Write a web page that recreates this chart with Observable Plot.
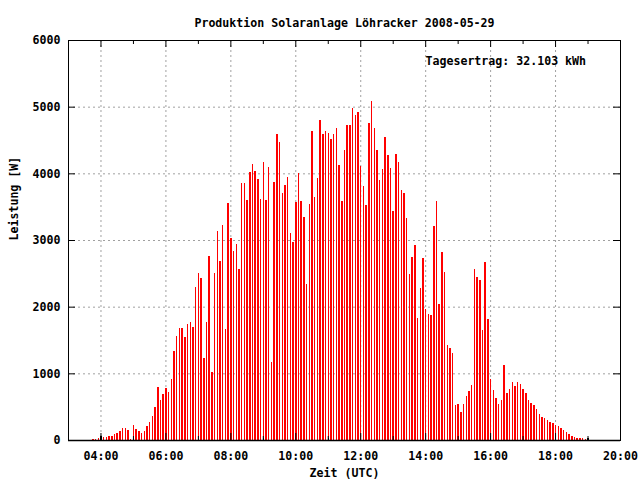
<!DOCTYPE html>
<html><head><meta charset="utf-8">
<script src="https://cdn.jsdelivr.net/npm/d3@7"></script>
<script src="https://cdn.jsdelivr.net/npm/@observablehq/plot@0.6"></script>
<style>html,body{margin:0;padding:0;background:#fff;}</style>
</head><body><div id="chart"></div>
<script>
// ---- data ----
const title = "Produktion Solaranlage Löhracker 2008-05-29";
const yLabel = "Leistung [W]";
const xLabel = "Zeit (UTC)";
const note = "Tagesertrag: 32.103 kWh";
const firstSample = "2008-05-29T03:45Z";
const stepMinutes = 5;
const power = [
  15, 15, 30, 40, 45, 45, 60, 60, 90, 105, 135, 180, 180, 150, 15, 225, 165, 135, 105, 135,
  210, 270, 360, 495, 795, 600, 690, 780, 720, 915, 1335, 1560, 1680, 1680, 1545, 1740, 1770, 1695, 2295, 2505,
  2430, 1230, 1770, 2760, 1020, 2505, 3135, 2685, 3225, 1665, 3555, 3030, 2835, 2940, 2565, 3855, 3855, 3600, 4020, 4140,
  4035, 3915, 3615, 4170, 3600, 4095, 1170, 3870, 4590, 4470, 3705, 3825, 3945, 3105, 2970, 3570, 4005, 3585, 3345, 2340,
  3540, 4635, 3645, 3930, 4800, 4590, 4635, 4605, 4515, 4590, 4680, 4125, 3585, 4350, 4725, 4725, 4980, 4875, 4920, 4110,
  3810, 3525, 4755, 5085, 4680, 4350, 3900, 4065, 4545, 4275, 4080, 3435, 4290, 4170, 3750, 3705, 3330, 2490, 2745, 2925,
  1830, 2280, 2730, 1965, 1890, 1875, 3210, 3585, 2040, 2820, 2520, 1425, 1380, 1305, 525, 540, 420, 540, 660, 735,
  825, 2565, 2445, 2400, 1650, 2670, 1815, 915, 750, 630, 540, 600, 1125, 705, 765, 870, 810, 870, 840, 765,
  705, 600, 555, 525, 465, 390, 345, 330, 300, 270, 255, 225, 210, 180, 150, 120, 90, 60, 45, 30,
  30, 30, 15
];
const markerTimes = ["2008-05-29T04:00Z", "2008-05-29T09:00Z", "2008-05-29T11:00Z", "2008-05-29T16:00Z", "2008-05-29T19:00Z"];
const markerValues = [60, 35, 35, 60, 30];
const xDomain = ["2008-05-29T03:00Z", "2008-05-29T20:00Z"];
const xTickTimes = ["2008-05-29T04:00Z", "2008-05-29T06:00Z", "2008-05-29T08:00Z", "2008-05-29T10:00Z", "2008-05-29T12:00Z", "2008-05-29T14:00Z", "2008-05-29T16:00Z", "2008-05-29T18:00Z", "2008-05-29T20:00Z"];
const xMinorTimes = ["2008-05-29T05:00Z", "2008-05-29T07:00Z", "2008-05-29T09:00Z", "2008-05-29T11:00Z", "2008-05-29T13:00Z", "2008-05-29T15:00Z", "2008-05-29T17:00Z", "2008-05-29T19:00Z"];
const yTicks = [0, 1000, 2000, 3000, 4000, 5000, 6000];

// ---- build ----
const t0 = new Date(firstSample);
const samples = power.map((v, i) => ({t: d3.utcMinute.offset(t0, i * stepMinutes), v}));
const markers = markerTimes.map((t, i) => ({t: new Date(t), v: markerValues[i]}));
const dom = xDomain.map(d => new Date(d));
const majors = xTickTimes.map(d => new Date(d));
const minors = xMinorTimes.map(d => new Date(d));
const inner = majors.filter(d => d < dom[1]);
const yMax = yTicks[yTicks.length - 1];

const W = 640, H = 480, mL = 68, mR = 20, mT = 40, mB = 40;
const wPerPx = yMax / (H - mT - mB);
const msPerPx = (dom[1] - dom[0]) / (W - mL - mR);
const majLen = 7, minLen = 4;
const gridStyle = {stroke: "#a0a0a0", strokeOpacity: 1, strokeWidth: 1, strokeDasharray: "2,3"};

const chart = Plot.plot({
  width: W, height: H,
  marginLeft: mL, marginRight: mR, marginTop: mT, marginBottom: mB,
  style: {fontFamily: "'DejaVu Sans Mono', monospace", fontSize: "11.6px", fontWeight: "bold", background: "white", color: "black"},
  x: {type: "utc", domain: dom},
  y: {domain: [0, yMax]},
  marks: [
    Plot.gridX(inner, gridStyle),
    Plot.gridY(yTicks.filter(d => d > 0 && d < yMax), gridStyle),
    Plot.ruleX(samples, {x: "t", y1: 0, y2: "v", stroke: "red", strokeWidth: 1.5, shapeRendering: "crispEdges"}),
    Plot.ruleX(markers, {x: "t", y1: 0, y2: "v", stroke: "black", strokeWidth: 1.5, shapeRendering: "crispEdges"}),
    // tick marks (inward, mirrored)
    Plot.ruleX(inner, {x: d => d, y1: 0, y2: majLen * wPerPx, stroke: "black"}),
    Plot.ruleX(inner, {x: d => d, y1: yMax - majLen * wPerPx, y2: yMax, stroke: "black"}),
    Plot.ruleX(minors, {x: d => d, y1: 0, y2: minLen * wPerPx, stroke: "black"}),
    Plot.ruleX(minors, {x: d => d, y1: yMax - minLen * wPerPx, y2: yMax, stroke: "black"}),
    Plot.ruleY(yTicks.filter(d => d > 0 && d < yMax), {y: d => d, x1: dom[0], x2: new Date(+dom[0] + majLen * msPerPx), stroke: "black"}),
    Plot.ruleY(yTicks.filter(d => d > 0 && d < yMax), {y: d => d, x1: new Date(+dom[1] - majLen * msPerPx), x2: dom[1], stroke: "black"}),
    Plot.frame({stroke: "black", strokeWidth: 1}),
    Plot.ruleY([0], {stroke: "black", strokeWidth: 1.5}),
    Plot.axisX({ticks: majors, tickFormat: d3.utcFormat("%H:%M"), tickSize: 0, tickPadding: 11, label: null}),
    Plot.axisY({ticks: yTicks, tickFormat: d3.format("d"), tickSize: 0, tickPadding: 8, label: null}),
    Plot.text([title], {frameAnchor: "top", dy: -22}),
    Plot.text([note], {frameAnchor: "top-left", dx: 357, dy: 16, textAnchor: "start"}),
    Plot.text([xLabel], {frameAnchor: "bottom", dy: 36}),
    Plot.text([yLabel], {frameAnchor: "left", dx: -54, rotate: -90})
  ]
});
document.getElementById("chart").append(chart);
</script>
</body></html>
